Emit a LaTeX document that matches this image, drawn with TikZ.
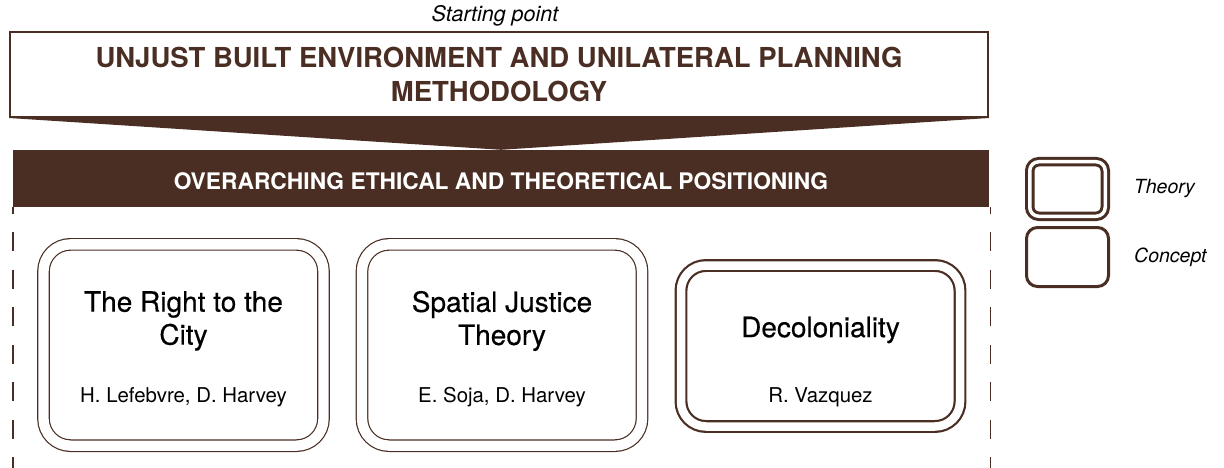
\documentclass[tikz,border=0pt]{standalone}
\usepackage{fontspec}
\setmainfont{TeX Gyre Heros}
\newfontfamily\medfont[FakeBold=0.4]{TeX Gyre Heros}
\usepackage{tikz}
\usetikzlibrary{positioning, shapes.geometric}
\definecolor{nBrown}{RGB}{74,46,35}
\tikzstyle{head}  = [rectangle, draw=nBrown, line width=2pt, text=nBrown, align=center,
minimum width=978pt, minimum height=85pt, font=\fontsize{27.5}{34}\selectfont\bfseries]
\tikzstyle{band}  = [rectangle, fill=nBrown, text=white, minimum width=976pt, minimum height=57pt,
text height=24pt, text depth=2pt, font=\fontsize{22.8}{26}\selectfont\bfseries]
\tikzstyle{conc}  = [rectangle, rounded corners=27pt, draw=nBrown, double, double distance=10.3pt,
line width=1.2pt, minimum width=280pt, minimum height=201.3pt]
\tikzstyle{theo}  = [rectangle, rounded corners=25pt, draw=nBrown, double, double distance=8.5pt,
line width=2.2pt, minimum width=279pt, minimum height=161pt]
\tikzstyle{ttl}   = [inner sep=0pt, align=center, font=\fontsize{28}{33}\medfont]
\tikzstyle{auth}  = [inner sep=0pt, anchor=base, font=\fontsize{20.4}{24}\selectfont]
\tikzstyle{note}  = [inner sep=0pt, font=\fontsize{19.5}{23}\selectfont\itshape]
\tikzstyle{frame} = [draw=nBrown, line width=1.5pt, dash pattern=on 19pt off 18.5pt, dash phase=12.5pt]

\begin{document}
\begin{tikzpicture}[x=1pt, y=-1pt, node distance=318.5pt]
      \useasboundingbox (0,0) rectangle (1224,468);

      \node(Sp)  [note, font=\fontsize{21.5}{25}\selectfont\itshape] at (495,16) {Starting point};
      \node(Ub)  [head] at (499,74.5) {UNJUST BUILT ENVIRONMENT AND UNILATERAL PLANNING\\METHODOLOGY};
      \node(Op)  [band] at (501,178.5) {OVERARCHING ETHICAL AND THEORETICAL POSITIONING};
      \fill [nBrown] (Ub.south west) -- (Ub.south east) -- (Op.north) -- cycle;

      % dashed sides
      \draw [frame] (Op.south west) -- (Op.south west |- 0,468);
      \draw [frame] ([xshift=1.5pt]Op.south east) -- ([xshift=1.5pt]Op.south east |- 0,468);

      \node(Rc)  [conc] at (183.5,345) {};
      \node(Sj)  [conc, right of = Rc] {};
      \node(Dc)  [theo, right of = Sj, yshift=-1pt] {};

      \node(RcT) [ttl, yshift=24pt] at (Rc) {The Right to the\\City};
      \node(SjT) [ttl, yshift=24pt] at (Sj) {Spatial Justice\\Theory};
      \node(DcT) [ttl, yshift=16pt] at (Dc) {Decoloniality};
      \node(RcA) [auth, yshift=-57pt] at (Rc) {H. Lefebvre, D. Harvey};
      \node(SjA) [auth, yshift=-57pt] at (Sj) {E. Soja, D. Harvey};
      \node(DcA) [auth, yshift=-56pt] at (Dc) {R. Vazquez};

      % legend
      \node(Th)  [rectangle, rounded corners=9pt, draw=nBrown, double, double distance=3.5pt,
                  line width=3pt, minimum width=75.5pt, minimum height=54.5pt] at (1067.5,189) {};
      \node(Cp)  [rectangle, rounded corners=11pt, draw=nBrown, line width=3pt,
                  minimum width=82pt, minimum height=59pt, below of = Th, node distance=68pt] {};
      \node(ThL) [note, right=27pt of Th] {Theory};
      \node(CpL) [note, right=24pt of Cp] {Concept};
\end{tikzpicture}
\end{document}
